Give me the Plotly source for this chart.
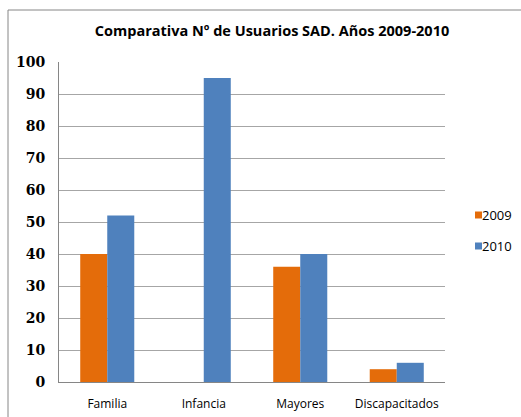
import plotly.graph_objects as go

categories = ["Familia", "Infancia", "Mayores", "Discapacitados"]
values_2009 = [40, None, 36, 4]
values_2010 = [52, 95, 40, 6]
series_names = ["2009", "2010"]
series_colors = ["#E46C0A", "#4F81BD"]
y_ticks = [0, 10, 20, 30, 40, 50, 60, 70, 80, 90, 100]

W, H = 521, 417
L, R, T, B = 59, 76, 62, 35
pw = W - L - R
ph = H - T - B

fig = go.Figure()
for name, vals, col in zip(series_names, [values_2009, values_2010], series_colors):
    fig.add_trace(go.Bar(name=name, x=categories, y=vals,
                         marker=dict(color=col, line=dict(width=0)),
                         showlegend=False))

# legend as text annotations + small square swatches
legend_y_px = [215, 246]
annotations = []
shapes = []
for name, col, ypx in zip(series_names, series_colors, legend_y_px):
    yc = 1 - (ypx - T) / ph
    annotations.append(dict(
        xref="paper", yref="paper",
        x=(481 - L) / pw, y=yc,
        xanchor="left", yanchor="middle", showarrow=False,
        text=name, borderpad=0,
        font=dict(family="Open Sans", size=13, color="#000000")))
    shapes.append(dict(type="rect", xref="paper", yref="paper",
                       x0=(475 - L) / pw, x1=(482 - L) / pw,
                       y0=yc - 3.5 / ph, y1=yc + 3.5 / ph,
                       fillcolor=col, line=dict(width=0)))

shapes.append(dict(type="rect", xref="paper", yref="paper",
                   x0=(8 - L) / pw, x1=(W + 20 - L) / pw,
                   y0=-(B + 20) / ph, y1=1 + (T - 10) / ph,
                   line=dict(color="#868686", width=1), layer="below"))

fig.update_layout(
    width=W, height=H,
    margin=dict(l=L, r=R, t=T, b=B, autoexpand=False),
    paper_bgcolor="white", plot_bgcolor="white",
    barmode="group", bargap=0.44, bargroupgap=0,
    title=dict(text="Comparativa Nº de Usuarios SAD. Años 2009-2010",
               x=272 / W, xanchor="center", xref="container",
               y=1 - 31 / H, yanchor="middle", yref="container",
               font=dict(family="Open Sans", size=14.5, color="#000000", weight="bold")),
    showlegend=False,
    annotations=annotations,
    shapes=shapes,
    xaxis=dict(showline=True, linecolor="#868686", linewidth=1,
               tickfont=dict(family="Open Sans", size=12, color="#000000"),
               ticks="", showgrid=False, fixedrange=True, ticklabelstandoff=11),
    yaxis=dict(range=[0, 100], tickvals=y_ticks, showline=True,
               linecolor="#868686", linewidth=1, showgrid=True,
               gridcolor="#A6A6A6", gridwidth=1, zeroline=False,
               tickfont=dict(family="DejaVu Serif", size=14, color="#000000", weight="bold"),
               ticks="", ticklabelstandoff=10),
)

fig.write_html("out.html", config={"displayModeBar": False},
               post_script="document.body.style.margin='0';document.body.style.overflow='hidden';")
